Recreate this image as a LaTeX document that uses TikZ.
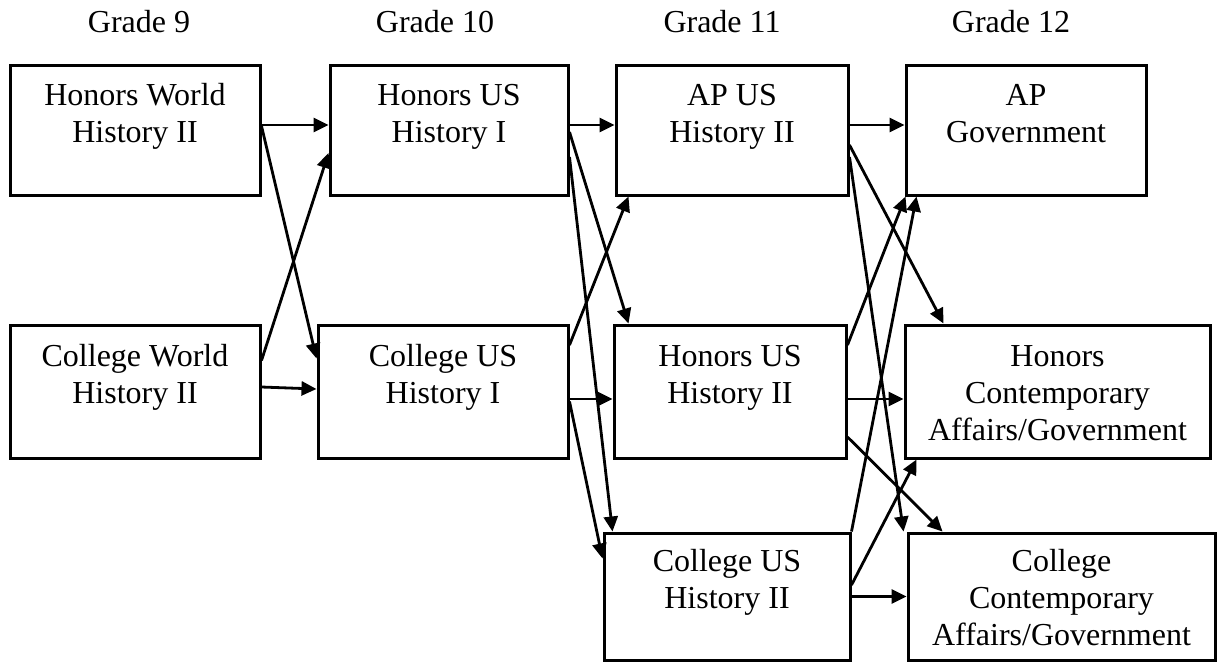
\documentclass[tikz,border=0pt]{standalone}
\usepackage{fontspec}
\setmainfont{Liberation Serif}
\usetikzlibrary{arrows.meta}
\newcommand{\crsstrut}{\rule[-6pt]{0pt}{36pt}}

\begin{document}
\begin{tikzpicture}[x=1pt,y=-1pt,>={Triangle[length=15pt,width=14pt]},
  font=\fontsize{32}{37}\selectfont,
  course/.style={draw,line width=3pt,align=center,inner sep=0pt},
  link/.style={->,line width=2.8pt}]
  \useasboundingbox (0,0) rectangle (1220,662);
  % grade headings
  \node[anchor=base] (g9) at (139,32) {Grade 9};
  \node[anchor=base] (g10) at (435,32) {Grade 10};
  \node[anchor=base] (g11) at (722,32) {Grade 11};
  \node[anchor=base] (g12) at (1011,32) {Grade 12};
  % grade 9
  \node[course,minimum width=250pt,minimum height=130pt] (hwh) at (135,130)
    {\crsstrut Honors World\\History II\\\crsstrut};
  \node[course,minimum width=250pt,minimum height=133pt] (cwh) at (135,391.5)
    {\crsstrut College World\\History II\\\crsstrut};
  % grade 10
  \node[course,minimum width=238pt,minimum height=130pt] (hus1) at (449,130)
    {\crsstrut Honors US\\History I\\\crsstrut};
  \node[course,minimum width=250pt,minimum height=133pt] (cus1) at (443,391.5)
    {\crsstrut College US\\History I\\\crsstrut};
  % grade 11
  \node[course,minimum width=232pt,minimum height=130pt] (apus2) at (732,130)
    {\crsstrut AP US\\History II\\\crsstrut};
  \node[course,minimum width=232pt,minimum height=133pt] (honus2) at (730,391.5)
    {\crsstrut Honors US\\History II\\\crsstrut};
  \node[course,minimum width=246pt,minimum height=127pt] (collus2) at (727,596.5)
    {\crsstrut College US\\History II\\\crsstrut};
  % grade 12
  \node[course,minimum width=240pt,minimum height=130pt] (apgov) at (1026,130)
    {\crsstrut AP\\Government\\\crsstrut};
  \node[course,minimum width=305pt,minimum height=133pt] (honca) at (1057.5,391.5)
    {\crsstrut Honors\\Contemporary\\Affairs/Government\crsstrut};
  \node[course,minimum width=307pt,minimum height=127pt] (collca) at (1061.5,596.5)
    {\crsstrut College\\Contemporary\\Affairs/Government\crsstrut};
  % grade 9 -> 10
  \draw[link] ([yshift=5pt]hwh.east) -- ([yshift=5pt]hus1.west);
  \draw[link] ([yshift=4pt]hwh.east) -- ([yshift=33pt]cus1.west);
  \draw[link] ([yshift=31pt]cwh.east) -- ([yshift=-23pt]hus1.west);
  \draw[link] ([yshift=4.5pt]cwh.east) -- ([yshift=2.5pt]cus1.west);
  % grade 10 -> 11
  \draw[link] ([yshift=5pt]hus1.east) -- ([yshift=5pt]apus2.west);
  \draw[link] ([yshift=-2pt]hus1.east) -- ([xshift=16pt]honus2.north west);
  \draw[link] ([yshift=-27pt]hus1.east) -- ([xshift=10pt]collus2.north west);
  \draw[link] ([yshift=46.5pt]cus1.east) -- ([xshift=14pt]apus2.south west);
  \draw[link] ([yshift=-7.5pt]cus1.east) -- ([yshift=-7.5pt]honus2.west);
  \draw[link] ([yshift=-10pt]cus1.east) -- ([yshift=38pt]collus2.west);
  % grade 11 -> 12
  \draw[link] ([yshift=5pt]apus2.east) -- ([yshift=5pt]apgov.west);
  \draw[link] ([yshift=-15pt]apus2.east) -- ([xshift=40pt]honca.north west);
  \draw[link] ([yshift=-27pt]apus2.east) -- ([xshift=-3pt]collca.north west);
  \draw[link] ([yshift=46.5pt]honus2.east) -- ([xshift=1pt]apgov.south west);
  \draw[link] ([yshift=-7.5pt]honus2.east) -- ([yshift=-7.5pt]honca.west);
  \draw[link] ([yshift=-45.5pt]honus2.east) -- ([xshift=36pt]collca.north west);
  \draw[link] (collus2.north east) -- ([xshift=12pt]apgov.south west);
  \draw[link] ([yshift=11.5pt]collus2.east) -- ([xshift=13pt]honca.south west);
  \draw[link] (collus2.east) -- (collca.west);
\end{tikzpicture}
\end{document}
